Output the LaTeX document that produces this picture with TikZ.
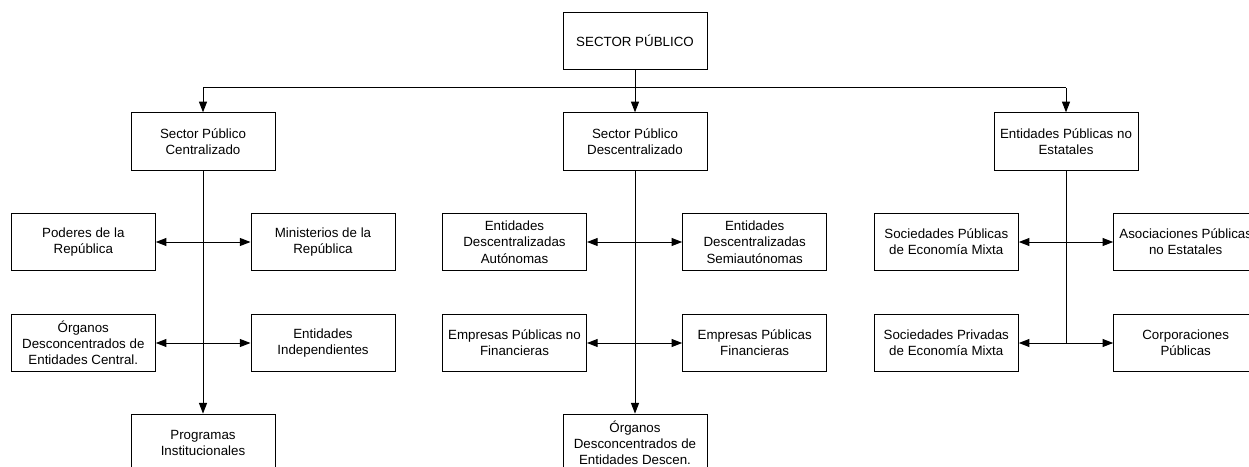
\documentclass[tikz,border=0pt]{standalone}
\usepackage{fontspec}
\setmainfont{Liberation Sans}
\usetikzlibrary{arrows.meta}
\begin{document}
\begin{tikzpicture}[x=0.75pt,y=-0.75pt,
  box/.style={draw, line width=0.75pt, minimum width=108pt, minimum height=43pt, inner sep=0pt, align=center, font=\fontsize{10}{12.2}\selectfont},
  conn/.style={line width=0.75pt},
  arr/.style={conn, -{Triangle[length=8pt,width=6pt]}},
  darr/.style={conn, {Triangle[length=8pt,width=6pt]}-{Triangle[length=8pt,width=6pt]}}]
\useasboundingbox (0,0) rectangle (1249,467);
\clip (0,0) rectangle (1249,467);
% level 1
\node[box] (top) at (635,40.7) {SECTOR PÚBLICO};
% level 2
\node[box] (cen) at (203,141.5) {Sector Público\\Centralizado};
\node[box] (des) at (635,141.5) {Sector Público\\Descentralizado};
\node[box] (npe) at (1066,141.5) {Entidades Públicas no\\Estatales};
% row 3
\node[box] (pod) at (83.3,242) {Poderes de la\\República};
\node[box] (min) at (323,242) {Ministerios de la\\República};
\node[box] (eda) at (514.5,242) {Entidades\\Descentralizadas\\Autónomas};
\node[box] (eds) at (754.7,242) {Entidades\\Descentralizadas\\Semiautónomas};
\node[box] (spm) at (946.3,242) {Sociedades Públicas\\de Economía Mixta};
\node[box] (apn) at (1185.7,242) {Asociaciones Públicas\\no Estatales};
% row 4
\node[box] (odc) at (83.3,343) {Órganos\\Desconcentrados de\\Entidades Central.};
\node[box] (ein) at (323,343) {Entidades\\Independientes};
\node[box] (epn) at (514.5,343) {Empresas Públicas no\\Financieras};
\node[box] (epf) at (754.7,343) {Empresas Públicas\\Financieras};
\node[box] (spr) at (946.3,343) {Sociedades Privadas\\de Economía Mixta};
\node[box] (cor) at (1185.7,343) {Corporaciones\\Públicas};
% row 5
\node[box] (pin) at (203,442.8) {Programas\\Institucionales};
\node[box] (odd) at (635,442.8) {Órganos\\Desconcentrados de\\Entidades Descen.};
% connectors level 1 -> 2
\coordinate (busL) at (203,88);
\coordinate (busR) at (1066,88);
\draw[conn] (busL) -- (busR);
\draw[arr] (top) -- (des);
\draw[arr] (busL) -- (cen);
\draw[arr] (busR) -- (npe);
% verticals
\draw[arr] (cen) -- (pin);
\draw[arr] (des) -- (odd);
\coordinate (rend) at (1066,343);
\draw[conn] (npe) -- (rend);
% horizontals
\draw[darr] (pod) -- (min);
\draw[darr] (odc) -- (ein);
\draw[darr] (eda) -- (eds);
\draw[darr] (epn) -- (epf);
\draw[darr] (spm) -- (apn);
\draw[darr] (spr) -- (cor);
\end{tikzpicture}
\end{document}
